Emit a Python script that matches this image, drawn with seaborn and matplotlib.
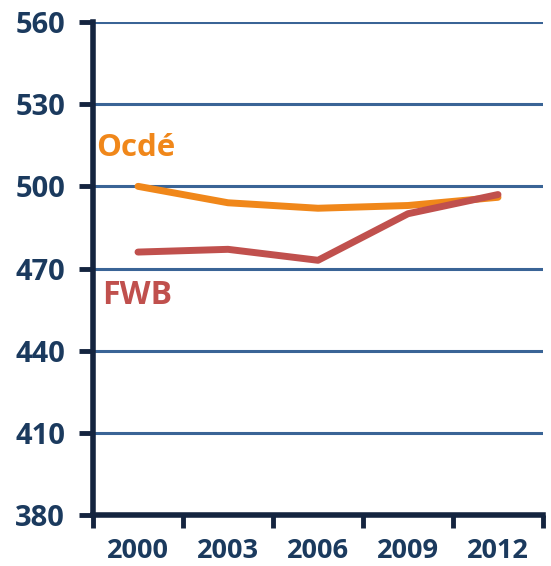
import matplotlib
matplotlib.use("Agg")
import matplotlib.pyplot as plt
import seaborn as sns
import pandas as pd
import numpy as np

years = ["2000", "2003", "2006", "2009", "2012"]
ocde = [500, 494, 492, 493, 496]
fwb = [476, 477, 473, 490, 497]
yticks = [380, 410, 440, 470, 500, 530, 560]

sns.set_theme(style="white")
plt.rcParams['font.family'] = ['Open Sans', 'DejaVu Sans']

navy = "#1B3A5E"
spine_col = "#14243F"
grid_col = "#3A6496"
orange = "#F0871A"
red = "#C0504D"

df = pd.DataFrame({
    "idx": list(range(len(years))) * 2,
    "value": ocde + fwb,
    "series": ["Ocdé"] * len(years) + ["FWB"] * len(years),
})

fig = plt.figure(figsize=(5.51, 5.66), dpi=100)
ax = fig.add_axes([93/551, 1 - 515/566, (543-93)/551, (515-22)/566])

for y in yticks[1:]:
    ax.axhline(y, color=grid_col, lw=2.2, zorder=1)

sns.lineplot(data=df, x="idx", y="value", hue="series",
             palette={"Ocdé": orange, "FWB": red}, lw=5, legend=False,
             ax=ax, zorder=3)
ax.lines[-2].set_solid_capstyle("round")
ax.lines[-1].set_solid_capstyle("round")

ax.set_xlim(-0.5, len(years) - 0.5)
ax.set_ylim(380, 560)
ax.set_yticks(yticks)
ax.set_yticklabels([str(v) for v in yticks], fontsize=21, fontweight="bold", color=navy)
ax.set_xticks(np.arange(-0.5, len(years), 1.0))
ax.set_xticklabels([])
ax.set_xticks(np.arange(len(years)), minor=True)
ax.set_xticklabels(years, minor=True, fontsize=19.5, fontweight="bold", color=navy)
ax.tick_params(axis="x", which="major", direction="out", length=9, width=3.5, color=spine_col, bottom=True)
ax.tick_params(axis="x", which="minor", length=0, pad=16.5, bottom=True)
ax.tick_params(axis="y", direction="out", length=10, width=3.5, color=spine_col, pad=10, left=True)
ax.set_xlabel("")
ax.set_ylabel("")

for s in ["top", "right"]:
    ax.spines[s].set_visible(False)
for s in ["left", "bottom"]:
    ax.spines[s].set_color(spine_col)
    ax.spines[s].set_linewidth(4)
    ax.spines[s].set_zorder(4)

ax.text(-0.46, 514, "Ocdé", color=orange, fontsize=22.5, fontweight="bold", va="center", ha="left")
ax.text(-0.40, 460, "FWB", color=red, fontsize=23, fontweight="bold", va="center", ha="left")

fig.savefig("out.png", dpi=100)
